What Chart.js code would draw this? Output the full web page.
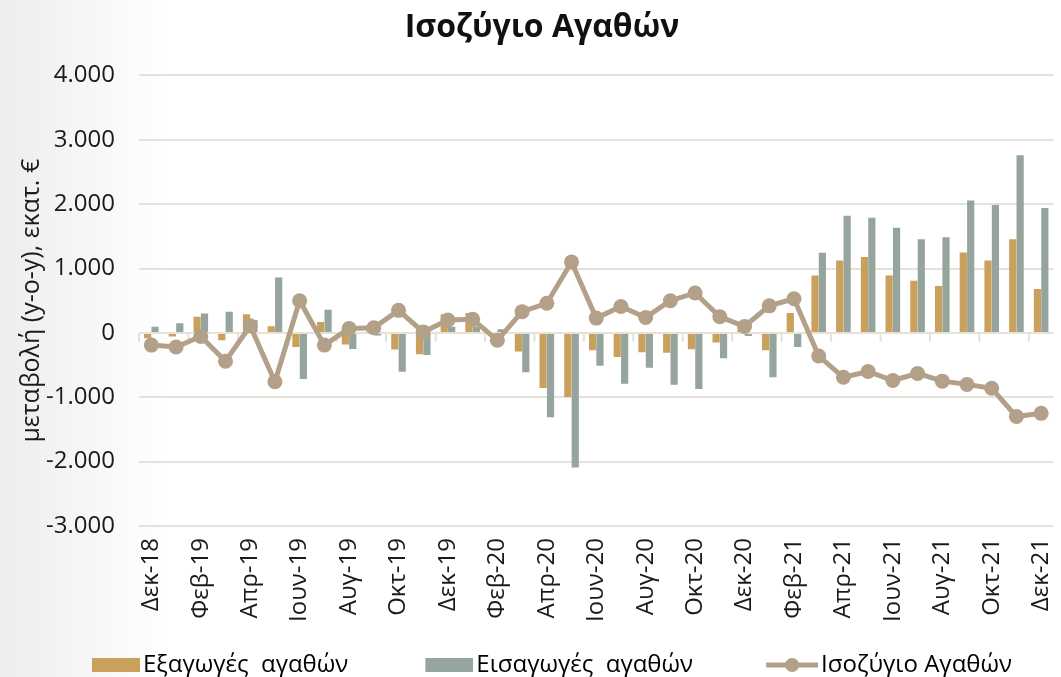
<!DOCTYPE html>
<html>
<head>
<meta charset="utf-8">
<script src="https://cdn.jsdelivr.net/npm/chart.js@4.4.1/dist/chart.umd.min.js"></script>
<style>
  html, body { margin: 0; padding: 0; background: #fff; }
  #wrap { width: 1061px; height: 677px; }
</style>
</head>
<body>
<div id="wrap"><canvas id="grafico-isozygio"></canvas></div>
<script>
// μήνες Δεκ-18 ... Δεκ-21
const categories = [
  'Δεκ-18',
  'Ιαν-19', 'Φεβ-19', 'Μαρ-19', 'Απρ-19', 'Μαϊ-19', 'Ιουν-19', 'Ιουλ-19', 'Αυγ-19', 'Σεπ-19', 'Οκτ-19', 'Νοε-19', 'Δεκ-19',
  'Ιαν-20', 'Φεβ-20', 'Μαρ-20', 'Απρ-20', 'Μαϊ-20', 'Ιουν-20', 'Ιουλ-20', 'Αυγ-20', 'Σεπ-20', 'Οκτ-20', 'Νοε-20', 'Δεκ-20',
  'Ιαν-21', 'Φεβ-21', 'Μαρ-21', 'Απρ-21', 'Μαϊ-21', 'Ιουν-21', 'Ιουλ-21', 'Αυγ-21', 'Σεπ-21', 'Οκτ-21', 'Νοε-21', 'Δεκ-21'
];

const exportsValues = [
  -85,
  -57, 250, -115, 290, 105, -220, 170, -180, 40, -260, -330, 290,
  310, -60, -290, -855, -995, -270, -375, -300, -310, -255, -150, 40,
  -270, 310, 890, 1125, 1180, 890, 810, 730, 1250, 1125, 1455, 680
];

const importsValues = [
  95,
  150, 300, 330, 200, 860, -715, 360, -250, -40, -605, -345, 95,
  100, 57, -610, -1310, -2090, -510, -790, -540, -805, -870, -395, -50,
  -690, -220, 1245, 1820, 1790, 1635, 1455, 1485, 2055, 1985, 2760, 1940
];

const balanceValues = [
  -190,
  -220, -55, -440, 110, -760, 500, -190, 70, 80, 350, 15, 200,
  210, -115, 330, 460, 1100, 230, 410, 240, 500, 620, 250, 100,
  420, 530, -360, -690, -600, -740, -630, -750, -800, -860, -1300, -1250
];

const yTicks = [-3000, -2000, -1000, 0, 1000, 2000, 3000, 4000];

const corLaranja = '#C9A05C';
const corCinza = '#95A49C';
const corLinha = '#B3A089';
const corGrade = '#E6E2D8';

// legenda: caixa larga com o ícone encostado à direita (dá o espaço entre itens)
const larguraCaixa = 114;
function icone(tipo, cor) {
  const cv = document.createElement('canvas');
  cv.width = larguraCaixa + 18;
  cv.height = 16;
  const c = cv.getContext('2d');
  const x0 = cv.width - 50;
  c.fillStyle = cor;
  c.strokeStyle = cor;
  if (tipo === 'linha') {
    c.lineWidth = 5;
    c.beginPath();
    c.moveTo(x0 - 2, 8);
    c.lineTo(cv.width, 8);
    c.stroke();
    c.beginPath();
    c.arc(x0 + 24, 8, 7, 0, Math.PI * 2);
    c.fill();
  } else {
    c.fillRect(x0 + 2, 1, 48, 14);
  }
  return cv;
}

const fundo = {
  id: 'fundo',
  beforeDraw(chart) {
    const c = chart.ctx;
    c.save();
    c.fillStyle = '#fff';
    c.fillRect(0, 0, chart.width, chart.height);
    const g = c.createLinearGradient(0, 0, 170, 0);
    g.addColorStop(0, 'rgba(0,0,0,0.07)');
    g.addColorStop(1, 'rgba(0,0,0,0)');
    c.fillStyle = g;
    c.fillRect(0, 0, 170, chart.height);
    c.restore();
  }
};

// marcas do eixo x sobre a linha do zero
const marcasZero = {
  id: 'marcasZero',
  beforeDatasetsDraw(chart) {
    const x = chart.scales.x, y = chart.scales.y;
    const y0 = y.getPixelForValue(0);
    const c = chart.ctx;
    c.save();
    c.strokeStyle = corGrade;
    c.lineWidth = 2;
    c.beginPath();
    for (let i = 0; i <= categories.length; i += 2) {
      const px = x.getPixelForValue(i - 0.5);
      c.moveTo(px, y0);
      c.lineTo(px, y0 + 9);
    }
    c.stroke();
    c.restore();
  }
};

const ctx = document.getElementById('grafico-isozygio');
new Chart(ctx, {
  type: 'bar',
  data: {
    labels: categories,
    datasets: [
      {
        label: 'Εξαγωγές  αγαθών',
        data: exportsValues,
        backgroundColor: corLaranja,
        categoryPercentage: 0.6,
        barPercentage: 0.97,
        order: 2
      },
      {
        label: 'Εισαγωγές  αγαθών',
        data: importsValues,
        backgroundColor: corCinza,
        categoryPercentage: 0.6,
        barPercentage: 0.97,
        order: 2
      },
      {
        type: 'line',
        label: 'Ισοζύγιο Αγαθών',
        data: balanceValues,
        borderColor: corLinha,
        backgroundColor: corLinha,
        borderWidth: 5,
        pointRadius: 7.5,
        pointHoverRadius: 7.5,
        pointBackgroundColor: corLinha,
        pointBorderWidth: 0,
        tension: 0,
        order: 1
      }
    ]
  },
  options: {
    responsive: true,
    maintainAspectRatio: false,
    animation: false,
    layout: { padding: { left: 15, right: -8, top: 0, bottom: -10 } },
    plugins: {
      title: {
        display: true,
        text: 'Ισοζύγιο Αγαθών',
        color: '#111',
        font: { family: 'Open Sans', size: 32, weight: 'bold' },
        padding: { top: 9, bottom: 28 }
      },
      legend: {
        position: 'bottom',
        align: 'start',
        labels: {
          color: '#1a1a1a',
          font: { family: 'Open Sans', size: 24 },
          usePointStyle: true,
          pointStyleWidth: larguraCaixa,
          boxHeight: 14,
          padding: 2,
          generateLabels(chart) {
            return chart.data.datasets.map((ds, i) => ({
              text: ds.label,
              fillStyle: ds.backgroundColor,
              strokeStyle: ds.backgroundColor,
              lineWidth: 0,
              pointStyle: icone(ds.type === 'line' ? 'linha' : 'caixa', ds.backgroundColor),
              datasetIndex: i,
              hidden: false
            }));
          }
        }
      },
      tooltip: { enabled: false }
    },
    scales: {
      x: {
        grid: { display: false },
        border: { display: false },
        afterFit: (axis) => {
          axis.height = 125;
          axis.paddingLeft = 0;
          axis.paddingRight = 0;
        },
        ticks: {
          autoSkip: false,
          maxRotation: 90,
          minRotation: 90,
          padding: 4,
          color: '#1a1a1a',
          font: { family: 'Open Sans', size: 24 },
          callback: function (v, i) { return i % 2 === 0 ? categories[i] : ''; }
        }
      },
      y: {
        min: -3000,
        max: 4000,
        afterBuildTicks: (axis) => { axis.ticks = yTicks.map(v => ({ value: v })); },
        afterFit: (axis) => { axis.width = 124; },
        grid: { color: corGrade, lineWidth: 2, drawTicks: false },
        border: { display: false },
        title: {
          display: true,
          text: 'μεταβολή (y-o-y), εκατ. €',
          color: '#1a1a1a',
          font: { family: 'Open Sans', size: 25 },
          padding: { top: 2, bottom: 0 }
        },
        ticks: {
          padding: 24,
          color: '#1a1a1a',
          font: { family: 'Open Sans', size: 24 },
          callback: (v) => v.toLocaleString('de-DE')
        }
      }
    }
  },
  plugins: [fundo, marcasZero]
});
</script>
</body>
</html>
